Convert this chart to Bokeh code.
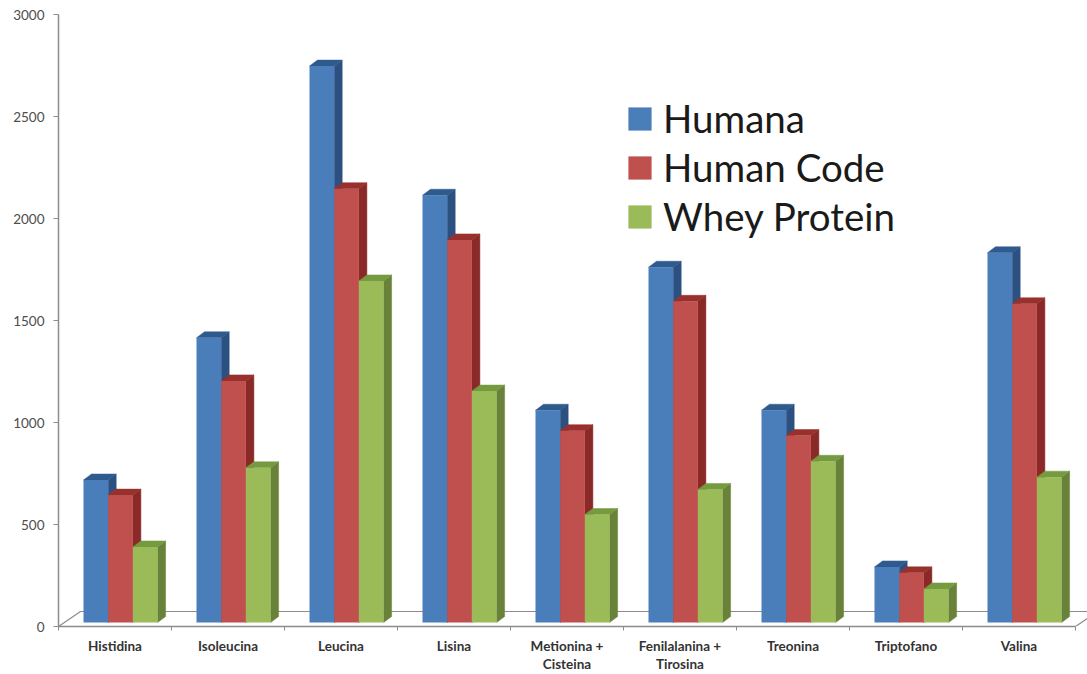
from bokeh.plotting import figure
from bokeh.embed import file_html
from bokeh.resources import INLINE
from bokeh.models import Range1d, FixedTicker, Legend, LegendItem

categories = ["Histidina", "Isoleucina", "Leucina", "Lisina", "Metionina +\nCisteina",
              "Fenilalanina +\nTirosina", "Treonina", "Triptofano", "Valina"]
humana = [718, 1415, 2747, 2114, 1060, 1761, 1060, 292, 1832]
human_code = [644, 1204, 2146, 1895, 960, 1594, 936, 263, 1582]
whey = [390, 778, 1694, 1154, 549, 672, 810, 184, 732]
y_ticks = [0, 500, 1000, 1500, 2000, 2500, 3000]

PX_X = 113.0               # px per category
PX_Y = 612.0 / 3000.0      # px per value
DX = 8 / PX_X              # bar depth
DY = 6 / PX_Y
BASE = 4 / PX_Y            # bar foot above the zero line
BAR_W = 24.7 / PX_X
FIRST = -31.5 / PX_X       # left edge of first bar relative to category centre
FLOOR_DX = 22 / PX_X
FLOOR_DY = 15 / PX_Y

WIDTH, HEIGHT = 1087, 674
L, R, T, B = 58, 0, 14, 48
frame_w = WIDTH - L - R

p = figure(width=WIDTH, height=HEIGHT, output_backend="svg", toolbar_location=None,
           x_range=Range1d(0, frame_w / PX_X), y_range=Range1d(0, 3000),
           min_border_left=L, min_border_right=R, min_border_top=T, min_border_bottom=B,
           background_fill_color="white", border_fill_color="white")
p.outline_line_color = None
p.grid.visible = False

AX = "#8c8c8c"
centers = [i + 0.5 for i in range(len(categories))]
xax = p.xaxis[0]
xax.ticker = FixedTicker(ticks=centers, minor_ticks=list(range(len(categories) + 1)))
xax.major_label_overrides = {c: n for c, n in zip(centers, categories)}
xax.bounds = (0, len(categories))
xax.major_tick_line_color = None
xax.minor_tick_out = 4
xax.minor_tick_in = 0
xax.minor_tick_line_color = AX
xax.axis_line_color = AX
xax.axis_line_width = 1.5
xax.major_label_text_font = "Lato"
xax.major_label_text_font_style = "bold"
xax.major_label_text_font_size = "13.5px"
xax.major_label_text_color = "#333333"
xax.major_label_text_line_height = 1.15
xax.major_label_standoff = 5

yax = p.yaxis[0]
yax.ticker = FixedTicker(ticks=y_ticks)
yax.major_tick_out = 5
yax.major_tick_in = 0
yax.minor_tick_line_color = None
yax.major_tick_line_color = AX
yax.axis_line_color = AX
yax.axis_line_width = 1.5
yax.major_label_text_font = "Lato"
yax.major_label_text_font_size = "13.5px"
yax.major_label_text_color = "#4d4d4d"
yax.major_label_standoff = 9

# 3-D floor
n = len(categories)
p.line([0, FLOOR_DX, frame_w / PX_X], [0, FLOOR_DY, FLOOR_DY], line_color=AX, line_width=1.2)
p.line([n, n + FLOOR_DX * 0.6], [0, FLOOR_DY * 0.6], line_color=AX, line_width=1.2)

series = [("Humana", humana, "#4A7EBB", "#2C5080", "#2F5A8E"),
          ("Human Code", human_code, "#C0504D", "#8A2A28", "#98302D"),
          ("Whey Protein", whey, "#9BBB59", "#68823A", "#769A3F")]

items = []
for k, (name, vals, front, side, top) in enumerate(series):
    lefts = [i + 0.5 + FIRST + k * BAR_W for i in range(n)]
    rights = [x + BAR_W for x in lefts]
    p.patches([[r, r + DX, r + DX, r] for r in rights],
              [[BASE, BASE + DY, v + DY, v] for v in vals],
              fill_color=side, line_color=side, line_width=0.5)
    p.patches([[l, l + DX, r + DX, r] for l, r in zip(lefts, rights)],
              [[v, v + DY, v + DY, v] for v in vals],
              fill_color=top, line_color=top, line_width=0.5)
    q = p.quad(left=lefts, right=rights, bottom=BASE, top=vals,
               fill_color=front, line_color=None)
    items.append(LegendItem(label=name, renderers=[q]))

legend = Legend(items=items, location=(567, 387), orientation="vertical",
                background_fill_alpha=0, border_line_color=None,
                label_text_font="Lato", label_text_font_size="38.5px", label_text_color="#1a1a1a",
                glyph_width=29, glyph_height=29, label_standoff=9, spacing=3,
                padding=0, margin=0, label_height=43)
p.add_layout(legend, "center")

open("out.html", "w").write(file_html(p, INLINE))
